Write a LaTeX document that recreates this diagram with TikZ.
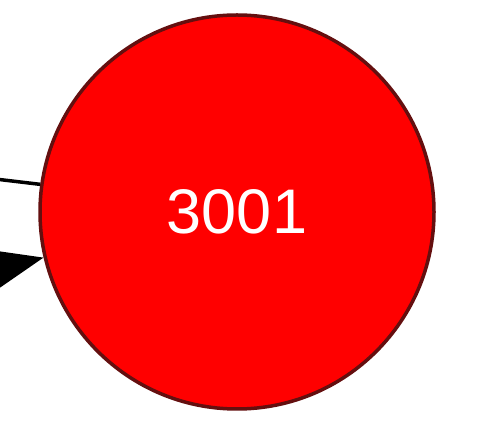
\documentclass[tikz,border=0pt]{standalone}
\usepackage{fontspec}
\setmainfont{Liberation Sans}
\usetikzlibrary{arrows.meta}
\definecolor{nodefill}{RGB}{255,0,0}
\definecolor{nodeborder}{RGB}{100,15,15}
\tikzset{
  bignode/.style={circle, fill=nodefill, draw=nodeborder, line width=3.5pt,
    minimum size=394pt, inner sep=0pt, text=white, font=\fontsize{63}{70}\selectfont},
  edgeline/.style={draw=black, line width=3.5pt},
  edgearrow/.style={draw=black, line width=3.5pt, -{Triangle[length=60pt,width=46pt]}}
}
\begin{document}
\begin{tikzpicture}[x=1pt,y=1pt]
\useasboundingbox (0,0) rectangle (484,425);
\node[bignode] (c) at (237,213) {3001};
\coordinate (s1) at (-60,252.5);
\coordinate (s2) at (-60,143);
\draw[edgeline] (s1) -- (c.172.2);
\draw[edgearrow] (s2) -- (c);
\end{tikzpicture}
\end{document}
